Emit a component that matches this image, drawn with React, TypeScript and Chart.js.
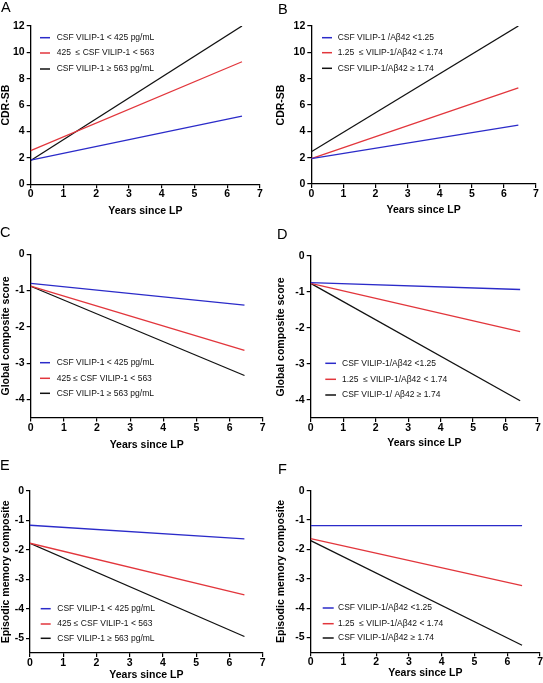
import React, { useEffect, useRef } from "react";
import { Chart, registerables } from "chart.js";

Chart.register(...registerables);

const FONT = "'Liberation Sans', Arial, Helvetica, sans-serif";

// ---- data ----
const yearsSinceLP = [0, 6.45];
const xTickValues = [0, 1, 2, 3, 4, 5, 6, 7];
const cdrTicks = [0, 2, 4, 6, 8, 10, 12];
const globalTicks = [0, -1, -2, -3, -4];
const memoryTicks = [0, -1, -2, -3, -4, -5];

const vilipLabelsA = ["CSF VILIP-1 < 425 pg/mL", "425  \u2264 CSF VILIP-1 < 563", "CSF VILIP-1 \u2265 563 pg/mL"];
const vilipLabelsCE = ["CSF VILIP-1 < 425 pg/mL", "425 \u2264 CSF VILIP-1 < 563", "CSF VILIP-1 \u2265 563 pg/mL"];
const ratioLabelsB = ["CSF VILIP-1 /A\u03b242 <1.25", "1.25  \u2264 VILIP-1/A\u03b242 < 1.74", "CSF VILIP-1/A\u03b242 \u2265 1.74"];
const ratioLabelsD = ["CSF VILIP-1/A\u03b242 <1.25", "1.25  \u2264 VILIP-1/A\u03b242 < 1.74", "CSF VILIP-1/ A\u03b242 \u2265 1.74"];
const ratioLabelsF = ["CSF VILIP-1/A\u03b242 <1.25", "1.25  \u2264 VILIP-1/A\u03b242 < 1.74", "CSF VILIP-1/A\u03b242 \u2265 1.74"];

// CDR-SB, VILIP-1 groups (value at year 0, value at end)
const cdrVilipLow = [1.84, 5.17];
const cdrVilipMid = [2.55, 9.29];
const cdrVilipHigh = [1.8, 12.0];
// CDR-SB, VILIP-1/Abeta42 groups
const cdrRatioLow = [1.92, 4.47];
const cdrRatioMid = [1.92, 7.3];
const cdrRatioHigh = [2.45, 12.0];
// Global composite, VILIP-1 groups
const globalVilipLow = [-0.8, -1.4];
const globalVilipMid = [-0.875, -2.65];
const globalVilipHigh = [-0.88, -3.34];
// Global composite, ratio groups
const globalRatioLow = [-0.74, -0.93];
const globalRatioMid = [-0.76, -2.1];
const globalRatioHigh = [-0.76, -4.02];
// Episodic memory, VILIP-1 groups
const memoryVilipLow = [-1.17, -1.63];
const memoryVilipMid = [-1.78, -3.53];
const memoryVilipHigh = [-1.78, -4.94];
// Episodic memory, ratio groups
const memoryRatioLow = [-1.19, -1.19];
const memoryRatioMid = [-1.63, -3.23];
const memoryRatioHigh = [-1.7, -5.26];

const COLORS = ["#2b2bc9", "#e2363c", "#111111"];

type Panel = {
  letter: string;
  left: number;
  top: number;
  width: number;
  height: number;
  area: { left: number; right: number; top: number; bottom: number };
  yTitle: string;
  yTitlePad: number;
  xTitlePad: number;
  yMin: number;
  yMax: number;
  yTicks: number[];
  labels: string[];
  series: number[][];
  legend: { lineX0: number; lineX1: number; textX: number; rows: number[] };
  letterPos: { left: number; top: number };
};

const panels: Panel[] = [
  {
    letter: "A", left: 0, top: 0, width: 272, height: 226,
    area: { left: 30.7, right: 260, top: 26, bottom: 184.3 },
    yTitle: "CDR-SB", yTitlePad: 0, xTitlePad: 8.7,
    yMin: 0, yMax: 12, yTicks: cdrTicks, labels: vilipLabelsA,
    series: [cdrVilipLow, cdrVilipMid, cdrVilipHigh],
    legend: { lineX0: 40, lineX1: 50, textX: 56.7, rows: [37.7, 53, 69] },
    letterPos: { left: 1, top: 0 },
  },
  {
    letter: "B", left: 272, top: 0, width: 271, height: 226,
    area: { left: 311.3, right: 536, top: 26, bottom: 184 },
    yTitle: "CDR-SB", yTitlePad: 3, xTitlePad: 9.7,
    yMin: 0, yMax: 12, yTicks: cdrTicks, labels: ratioLabelsB,
    series: [cdrRatioLow, cdrRatioMid, cdrRatioHigh],
    legend: { lineX0: 50, lineX1: 60, textX: 65.7, rows: [37.7, 52.7, 68.3] },
    letterPos: { left: 278, top: 1.5 },
  },
  {
    letter: "C", left: 0, top: 226, width: 272, height: 228,
    area: { left: 30.7, right: 262.7, top: 254.3, bottom: 417.6 },
    yTitle: "Global composite score", yTitlePad: 0, xTitlePad: 2.7,
    yMin: -4.5, yMax: 0, yTicks: globalTicks, labels: vilipLabelsCE,
    series: [globalVilipLow, globalVilipMid, globalVilipHigh],
    legend: { lineX0: 40, lineX1: 50, textX: 56.7, rows: [136.7, 152.3, 167.3] },
    letterPos: { left: 0, top: 225 },
  },
  {
    letter: "D", left: 272, top: 226, width: 271, height: 228,
    area: { left: 310.7, right: 538, top: 256, bottom: 418 },
    yTitle: "Global composite score", yTitlePad: 2.7, xTitlePad: 4.7,
    yMin: -4.5, yMax: 0, yTicks: globalTicks, labels: ratioLabelsD,
    series: [globalRatioLow, globalRatioMid, globalRatioHigh],
    legend: { lineX0: 53.3, lineX1: 64, textX: 70, rows: [137.3, 153.3, 169] },
    letterPos: { left: 277, top: 226.5 },
  },
  {
    letter: "E", left: 0, top: 454, width: 272, height: 229,
    area: { left: 30, right: 262.7, top: 490.7, bottom: 653 },
    yTitle: "Episodic memory composite", yTitlePad: 0, xTitlePad: 2,
    yMin: -5.5, yMax: 0, yTicks: memoryTicks, labels: vilipLabelsCE,
    series: [memoryVilipLow, memoryVilipMid, memoryVilipHigh],
    legend: { lineX0: 40.7, lineX1: 50.7, textX: 57.3, rows: [154.7, 170, 184.3] },
    letterPos: { left: 0, top: 458 },
  },
  {
    letter: "F", left: 272, top: 454, width: 271, height: 229,
    area: { left: 310.7, right: 540.3, top: 490.7, bottom: 652.3 },
    yTitle: "Episodic memory composite", yTitlePad: 2.7, xTitlePad: 3.7,
    yMin: -5.5, yMax: 0, yTicks: memoryTicks, labels: ratioLabelsF,
    series: [memoryRatioLow, memoryRatioMid, memoryRatioHigh],
    legend: { lineX0: 50.7, lineX1: 61.7, textX: 66, rows: [154, 169.7, 184] },
    letterPos: { left: 278, top: 461.5 },
  },
];

const inlineLegend = {
  id: "inlineLegend",
  afterDraw(chart: any, _args: any, opts: any) {
    if (!opts || !opts.rows) return;
    const ctx = chart.ctx;
    ctx.save();
    ctx.font = `8.5px ${FONT}`;
    ctx.textBaseline = "middle";
    ctx.textAlign = "left";
    chart.data.datasets.forEach((ds: any, i: number) => {
      const y = opts.rows[i];
      ctx.strokeStyle = ds.borderColor;
      ctx.lineWidth = 1.5;
      ctx.beginPath();
      ctx.moveTo(opts.lineX0, y);
      ctx.lineTo(opts.lineX1, y);
      ctx.stroke();
      ctx.fillStyle = "#111";
      ctx.fillText(ds.label, opts.textX, y);
    });
    ctx.restore();
  },
};

function PanelChart({ p }: { p: Panel }) {
  const ref = useRef<HTMLCanvasElement | null>(null);
  useEffect(() => {
    if (!ref.current) return;
    const yWidth = p.area.left - p.left;
    const xHeight = p.top + p.height - p.area.bottom;
    const padTop = p.area.top - p.top;
    const padRight = p.left + p.width - p.area.right;
    const tickFont = { family: FONT, size: 10.5, weight: "bold" as const };
    const chart = new Chart(ref.current, {
      type: "line",
      data: {
        datasets: p.series.map((s, i) => ({
          label: p.labels[i],
          data: s.map((v, j) => ({ x: yearsSinceLP[j], y: v })),
          borderColor: COLORS[i],
          backgroundColor: COLORS[i],
          borderWidth: 1.3,
          pointRadius: 0,
          fill: false,
          tension: 0,
        })),
      },
      options: {
        animation: false,
        responsive: false,
        maintainAspectRatio: false,
        layout: { padding: { top: padTop, right: padRight, left: 0, bottom: 0 } },
        plugins: {
          legend: { display: false },
          tooltip: { enabled: false },
          inlineLegend: p.legend,
        } as any,
        scales: {
          x: {
            type: "linear",
            min: 0,
            max: 7,
            afterBuildTicks: (scale: any) => {
              scale.ticks = xTickValues.map((v) => ({ value: v }));
            },
            afterFit: (scale: any) => {
              scale.height = xHeight;
            },
            grid: { display: true, drawOnChartArea: false, drawTicks: true, tickLength: 4, color: "#000", lineWidth: 1.2 },
            border: { display: true, color: "#000", width: 1.3 },
            ticks: { color: "#000", font: tickFont, padding: 0, maxRotation: 0, autoSkip: false },
            title: {
              display: true,
              text: "Years since LP",
              color: "#000",
              font: tickFont,
              padding: { top: 0, bottom: p.xTitlePad },
            },
          },
          y: {
            type: "linear",
            min: p.yMin,
            max: p.yMax,
            afterBuildTicks: (scale: any) => {
              scale.ticks = p.yTicks.map((v) => ({ value: v }));
            },
            afterFit: (scale: any) => {
              scale.width = yWidth;
            },
            grid: { display: true, drawOnChartArea: false, drawTicks: true, tickLength: 4, color: "#000", lineWidth: 1.2 },
            border: { display: true, color: "#000", width: 1.3 },
            ticks: { color: "#000", font: tickFont, padding: 2, autoSkip: false },
            title: {
              display: true,
              text: p.yTitle,
              color: "#000",
              font: tickFont,
              padding: { top: p.yTitlePad, bottom: 0 },
            },
          },
        },
      },
      plugins: [inlineLegend as any],
    });
    return () => chart.destroy();
  }, [p]);
  return (
    <>
      <canvas
        ref={ref}
        width={p.width}
        height={p.height}
        style={{ position: "absolute", left: p.left, top: p.top, width: p.width, height: p.height, display: "block" }}
      />
      <div
        style={{
          position: "absolute",
          left: p.letterPos.left,
          top: p.letterPos.top,
          fontFamily: FONT,
          fontSize: 14.5,
          lineHeight: 1,
          color: "#000",
        }}
      >
        {p.letter}
      </div>
    </>
  );
}

export default function App() {
  return (
    <div style={{ position: "absolute", left: 0, top: 0, width: 543, height: 683, background: "#fff", overflow: "hidden" }}>
      {panels.map((p) => (
        <PanelChart key={p.letter} p={p} />
      ))}
    </div>
  );
}
